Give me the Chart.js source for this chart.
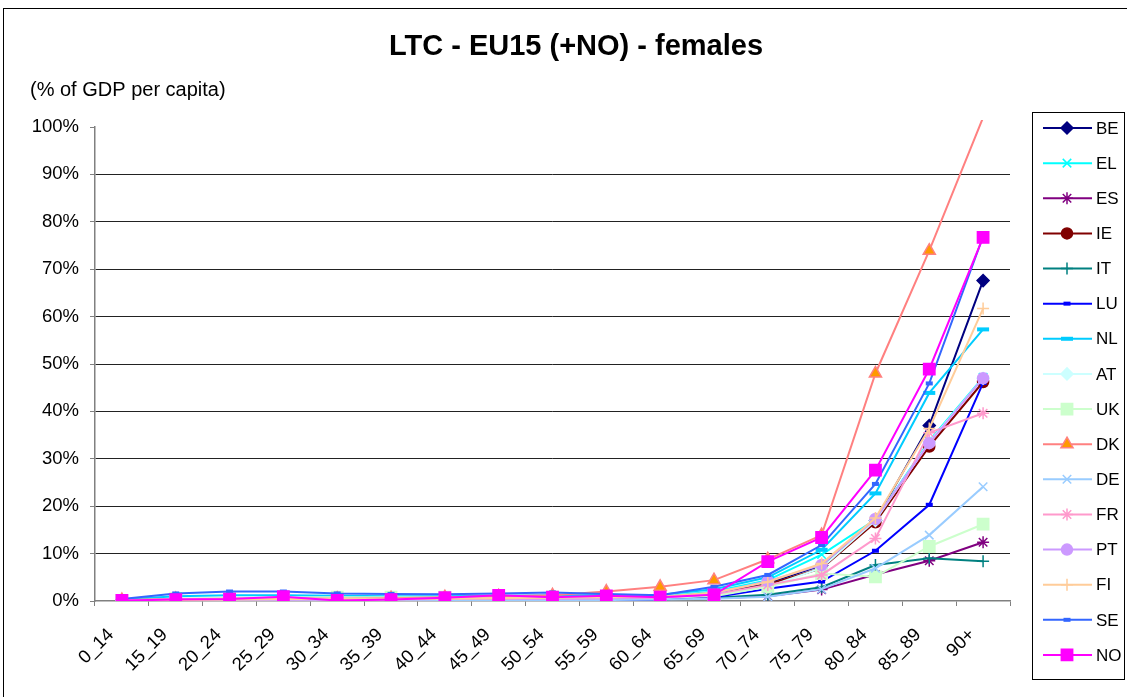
<!DOCTYPE html>
<html lang="en">
<head>
<meta charset="UTF-8">
<title>LTC - EU15 (+NO) - females</title>
<script src="https://cdn.jsdelivr.net/npm/chart.js"></script>
<style>
  body { margin: 0; background: #fff; }
  #wrap { position: relative; width: 1127px; height: 697px; }
</style>
</head>
<body>
<div id="wrap"><canvas id="ltcChart" width="1127" height="697"></canvas></div>
<script>
// age bands on the x axis
const ageGroups = ['0_14', '15_19', '20_24', '25_29', '30_34', '35_39', '40_44', '45_49', '50_54',
                   '55_59', '60_64', '65_69', '70_74', '75_79', '80_84', '85_89', '90+'];

// spending per female, % of GDP per capita
const BE = [0.1, 0.3, 0.3, 0.4, 0.3, 0.3, 0.4, 0.5, 0.5, 0.6, 0.8, 1.8, 3.8, 7.5, 17.0, 37.0, 67.6];
const EL = [0.1, 0.2, 0.2, 0.2, 0.2, 0.3, 0.3, 0.4, 0.5, 0.6, 0.9, 2.0, 4.4, 9.8, 17.2, 33.8, 47.2];
const ES = [0.0, 0.1, 0.1, 0.1, 0.1, 0.1, 0.1, 0.2, 0.2, 0.3, 0.4, 0.6, 1.0, 2.4, 5.6, 8.5, 12.4];
const IE = [0.1, 0.3, 0.3, 0.3, 0.3, 0.3, 0.4, 0.4, 0.5, 0.6, 0.7, 1.4, 3.5, 6.9, 16.6, 32.6, 46.2];
const IT = [0.1, 0.1, 0.1, 0.1, 0.1, 0.2, 0.2, 0.2, 0.3, 0.3, 0.4, 0.7, 1.3, 2.9, 7.6, 9.0, 8.4];
const LU = [0.0, 0.0, 0.0, 0.1, 0.1, 0.1, 0.1, 0.1, 0.2, 0.2, 0.3, 0.8, 2.6, 4.1, 10.6, 20.3, 46.0];
const NL = [0.3, 1.0, 1.2, 1.2, 1.1, 1.0, 1.0, 1.1, 1.2, 1.2, 1.3, 2.5, 5.0, 10.8, 22.7, 43.9, 57.3];
const AT = [0.1, 0.2, 0.2, 0.2, 0.2, 0.2, 0.3, 0.3, 0.4, 0.5, 0.6, 1.2, 3.0, 7.0, 17.0, 33.5, 47.0];
const UK = [0.1, 0.5, 0.6, 0.7, 0.8, 0.8, 0.8, 0.8, 0.8, 0.8, 0.8, 1.0, 3.0, 5.8, 5.1, 11.5, 16.2];
const DK = [0.2, 0.4, 0.5, 0.6, 0.5, 0.6, 0.8, 1.0, 1.2, 2.0, 3.0, 4.4, 8.8, 13.9, 48.0, 73.9, 102.0];
const DE = [0.0, 0.1, 0.1, 0.1, 0.1, 0.1, 0.1, 0.1, 0.2, 0.2, 0.3, 0.5, 0.9, 2.5, 6.9, 13.9, 24.1];
const FR = [0.1, 0.3, 0.3, 0.3, 0.3, 0.3, 0.4, 0.4, 0.5, 0.6, 0.7, 1.4, 3.4, 5.5, 13.2, 35.5, 39.6];
const PT = [0.1, 0.3, 0.3, 0.3, 0.3, 0.4, 0.4, 0.5, 0.5, 0.6, 0.8, 1.6, 4.2, 7.6, 17.3, 33.3, 47.0];
const FI = [0.1, 0.2, 0.3, 0.4, 0.4, 0.5, 0.5, 0.6, 0.7, 0.8, 0.9, 1.8, 4.0, 7.9, 17.5, 36.4, 61.7];
const SE = [0.4, 1.6, 2.0, 2.0, 1.6, 1.5, 1.4, 1.6, 1.8, 1.5, 1.2, 3.0, 5.5, 11.8, 24.7, 45.9, 76.9];
const NO = [0.1, 0.3, 0.4, 0.9, 0.1, 0.3, 0.7, 1.2, 0.8, 1.1, 0.8, 1.3, 8.3, 13.4, 27.6, 48.9, 76.7];

const yTicks = [0, 10, 20, 30, 40, 50, 60, 70, 80, 90, 100];

const series = [
  { label: 'BE', data: BE, line: '#000080', fill: '#000080', style: 'rectRot',  size: 6 },
  { label: 'EL', data: EL, line: '#00FFFF', fill: '#00FFFF', style: 'crossRot', size: 6 },
  { label: 'ES', data: ES, line: '#800080', fill: '#800080', style: 'star',     size: 6 },
  { label: 'IE', data: IE, line: '#800000', fill: '#800000', style: 'circle',   size: 5.5 },
  { label: 'IT', data: IT, line: '#008080', fill: '#008080', style: 'cross',    size: 6 },
  { label: 'LU', data: LU, line: '#0000FF', fill: '#0000FF', style: 'line',     size: 3.5, bw: 4 },
  { label: 'NL', data: NL, line: '#00CCFF', fill: '#00CCFF', style: 'line',     size: 6,   bw: 4 },
  { label: 'AT', data: AT, line: '#CCFFFF', fill: '#CCFFFF', style: 'rectRot',  size: 6 },
  { label: 'UK', data: UK, line: '#CCFFCC', fill: '#CCFFCC', style: 'rect',     size: 8 },
  { label: 'DK', data: DK, line: '#FF8080', fill: '#FF9900', style: 'triangle', size: 7 },
  { label: 'DE', data: DE, line: '#99CCFF', fill: '#99CCFF', style: 'crossRot', size: 6 },
  { label: 'FR', data: FR, line: '#FF99CC', fill: '#FF99CC', style: 'star',     size: 6 },
  { label: 'PT', data: PT, line: '#CC99FF', fill: '#CC99FF', style: 'circle',   size: 5.5 },
  { label: 'FI', data: FI, line: '#FFCC99', fill: '#FFCC99', style: 'cross',    size: 6 },
  { label: 'SE', data: SE, line: '#3366FF', fill: '#3366FF', style: 'line',     size: 3.5, bw: 4 },
  { label: 'NO', data: NO, line: '#FF00FF', fill: '#FF00FF', style: 'rect',     size: 8 }
];

const FONT = '"Liberation Sans", Arial, sans-serif';

// white page, outer frame, title and unit note
const frame = {
  id: 'frame',
  beforeDraw(chart) {
    const ctx = chart.ctx;
    ctx.save();
    ctx.fillStyle = '#fff';
    ctx.fillRect(0, 0, chart.width, chart.height);
    ctx.strokeStyle = '#000';
    ctx.lineWidth = 1;
    ctx.strokeRect(3.5, 8.5, 1300, 800);
    ctx.fillStyle = '#000';
    ctx.textBaseline = 'middle';
    ctx.textAlign = 'center';
    ctx.font = 'bold 29px ' + FONT;
    ctx.fillText('LTC - EU15 (+NO) - females', 576, 47);
    ctx.textAlign = 'left';
    ctx.font = '20px ' + FONT;
    ctx.fillText('(% of GDP per capita)', 30, 90);
    ctx.restore();
  }
};

// boxed legend on the right: line sample with marker, then country code
const legendBox = {
  id: 'legendBox',
  afterDraw(chart) {
    const ctx = chart.ctx;
    ctx.save();
    ctx.strokeStyle = '#000';
    ctx.lineWidth = 1;
    ctx.strokeRect(1032.5, 112.5, 92, 567);
    ctx.font = '17px ' + FONT;
    ctx.textBaseline = 'middle';
    ctx.textAlign = 'left';
    series.forEach((s, i) => {
      const y = 128 + i * 35.13;
      ctx.strokeStyle = s.line;
      ctx.lineWidth = 2;
      ctx.beginPath();
      ctx.moveTo(1043, y);
      ctx.lineTo(1092, y);
      ctx.stroke();
      ctx.fillStyle = s.fill;
      ctx.strokeStyle = s.line;
      ctx.lineWidth = s.bw || 1.5;
      Chart.helpers.drawPoint(ctx, { pointStyle: s.style, radius: s.size, rotation: 0, borderWidth: s.bw || 1.5 }, 1067, y);
      ctx.fillStyle = '#000';
      ctx.fillText(s.label, 1096, y + 1);
    });
    ctx.restore();
  }
};

const datasets = series.map((s, i) => ({
  label: s.label,
  data: s.data,
  borderColor: s.line,
  borderWidth: 2,
  pointStyle: s.style,
  pointBackgroundColor: s.fill,
  pointBorderColor: s.line,
  pointBorderWidth: s.bw || 1.5,
  pointRadius: c => (c.raw > 100 ? 0 : s.size),
  tension: 0,
  order: series.length - i,
  clip: { left: 0, top: 7, right: 0, bottom: 0 }
}));

new Chart(document.getElementById('ltcChart'), {
  type: 'line',
  data: { labels: ageGroups, datasets: datasets },
  options: {
    responsive: false,
    animation: false,
    layout: { padding: { top: 127, left: 30, right: 117, bottom: 0 } },
    plugins: {
      legend: { display: false },
      title: { display: false },
      tooltip: { enabled: false }
    },
    scales: {
      x: {
        type: 'category',
        offset: true,
        grid: { offset: true, drawOnChartArea: false, drawTicks: true, tickLength: 5, tickColor: '#808080' },
        border: { display: true, color: '#808080', width: 1.5 },
        ticks: {
          autoSkip: false,
          minRotation: 45,
          maxRotation: 45,
          padding: 18,
          labelOffset: -11,
          color: '#000',
          font: { family: FONT, size: 18.5 }
        },
        afterFit(scale) { scale.height = 96; }
      },
      y: {
        min: 0,
        max: 100,
        afterBuildTicks(scale) { scale.ticks = yTicks.map(v => ({ value: v })); },
        grid: {
          color: c => (c.tick && (c.tick.value === 0 || c.tick.value === 100) ? 'rgba(0,0,0,0)' : '#222'),
          tickColor: '#808080',
          tickLength: 5,
          lineWidth: 1
        },
        border: { display: true, color: '#808080', width: 1.5 },
        ticks: {
          padding: 11,
          color: '#000',
          font: { family: FONT, size: 18.5 },
          callback: v => v + '%'
        },
        afterFit(scale) { scale.width = 65; }
      }
    }
  },
  plugins: [frame, legendBox]
});
</script>
</body>
</html>
